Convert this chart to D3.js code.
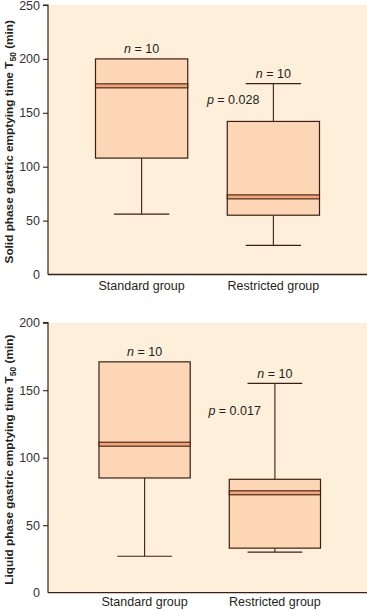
<!DOCTYPE html>
<html>
<head>
<meta charset="utf-8">
<script src="https://cdn.jsdelivr.net/npm/d3@7"></script>
<style>
  html, body { margin: 0; padding: 0; background: #ffffff; }
  svg { display: block; }
  text { font-family: "Liberation Sans", Arial, Helvetica, sans-serif; }
</style>
</head>
<body>
<svg id="chart" width="367" height="610"></svg>
<script>
// ---- data ----
const categories = ["Standard group", "Restricted group"];
const groupN = [10, 10];

const solidMin    = [56, 27];
const solidQ1     = [108, 55];
const solidMedian = [175, 72];
const solidQ3     = [200, 142];
const solidMax    = [200, 177];
const solidP      = "0.028";
const solidTicks  = [0, 50, 100, 150, 200, 250];

const liquidMin    = [27, 30];
const liquidQ1     = [85, 33];
const liquidMedian = [110, 74];
const liquidQ3     = [171, 84];
const liquidMax    = [171, 155];
const liquidP      = "0.017";
const liquidTicks  = [0, 50, 100, 150, 200];

// ---- styles ----
const BG = "#fdefda";
const BOX = "#fcd6b5";
const MED = "#f3a476";
const INK = "#3a2016";
const TXT = "#231f20";

const svg = d3.select("#chart");

const panels = [
  { title: "Solid phase gastric emptying time T", min: solidMin, q1: solidQ1, med: solidMedian, q3: solidQ3, max: solidMax,
    p: solidP, ticks: solidTicks, yMax: 250, top: 5, bottom: 274.5, xRange: [95.5, 319.5], pY: 158, xLabelY: 290 },
  { title: "Liquid phase gastric emptying time T", min: liquidMin, q1: liquidQ1, med: liquidMedian, q3: liquidQ3, max: liquidMax,
    p: liquidP, ticks: liquidTicks, yMax: 200, top: 322.7, bottom: 592.7, xRange: [99, 320.5], pY: 132, xLabelY: 606.5 }
];

const left = 48, right = 367;

panels.forEach(pn => {
  const g = svg.append("g");
  const y = d3.scaleLinear().domain([0, pn.yMax]).range([pn.bottom, pn.top]);
  const x = d3.scaleBand().domain(categories).range(pn.xRange).paddingInner(0.3).paddingOuter(0);
  const bw = x.bandwidth();

  // background
  g.append("rect").attr("x", left).attr("y", pn.top).attr("width", right - left).attr("height", pn.bottom - pn.top).attr("fill", BG);

  // y axis
  const yAxis = d3.axisLeft(y).tickValues(pn.ticks).tickSize(5).tickPadding(3).tickFormat(d3.format("d"));
  const ya = g.append("g").attr("transform", `translate(${left},0)`).call(yAxis);
  ya.select(".domain").attr("stroke", INK).attr("stroke-width", 1.2).attr("d", `M-5,${pn.top}H0V${pn.bottom}`);
  ya.selectAll(".tick line").attr("stroke", INK).attr("stroke-width", 1.1);
  ya.selectAll(".tick text").attr("fill", "#333").style("font-size", "12.5px");
  ya.selectAll(".tick").filter(d => d === 0).select("line").remove();

  // x axis
  const xAxis = d3.axisBottom(x).tickSize(0).tickPadding(0);
  const xa = g.append("g").attr("transform", `translate(0,${pn.bottom})`).call(xAxis);
  xa.select(".domain").attr("d", `M${left},0H${right}`).attr("stroke", INK).attr("stroke-width", 1.3);
  xa.selectAll(".tick text").attr("y", pn.xLabelY - pn.bottom).attr("dy", 0).attr("fill", TXT).style("font-size", "12.5px");

  const idx = d3.range(categories.length);
  const cap = bw * 0.6;

  idx.forEach(i => {
    const cx = x(categories[i]) + bw / 2;
    const bg = g.append("g");
    // whisker lines
    bg.append("line").attr("x1", cx).attr("x2", cx).attr("y1", y(pn.max[i])).attr("y2", y(pn.q3[i])).attr("stroke", INK).attr("stroke-width", 1.1);
    bg.append("line").attr("x1", cx).attr("x2", cx).attr("y1", y(pn.q1[i])).attr("y2", y(pn.min[i])).attr("stroke", INK).attr("stroke-width", 1.1);
    // caps
    if (pn.max[i] !== pn.q3[i]) {
      bg.append("line").attr("x1", cx - cap / 2).attr("x2", cx + cap / 2).attr("y1", y(pn.max[i])).attr("y2", y(pn.max[i])).attr("stroke", INK).attr("stroke-width", 1.2);
    }
    bg.append("line").attr("x1", cx - cap / 2).attr("x2", cx + cap / 2).attr("y1", y(pn.min[i])).attr("y2", y(pn.min[i])).attr("stroke", INK).attr("stroke-width", 1.2);
    // box
    bg.append("rect").attr("x", x(categories[i])).attr("y", y(pn.q3[i])).attr("width", bw).attr("height", y(pn.q1[i]) - y(pn.q3[i]))
      .attr("fill", BOX).attr("stroke", INK).attr("stroke-width", 1.2);
    // median band
    bg.append("rect").attr("x", x(categories[i])).attr("y", y(pn.med[i]) - 2).attr("width", bw).attr("height", 4)
      .attr("fill", MED).attr("stroke", INK).attr("stroke-width", 1.1);
    // n label
    const t = bg.append("text").attr("x", cx).attr("y", y(pn.max[i]) - 5.5).attr("text-anchor", "middle")
      .attr("fill", TXT).style("font-size", "12.5px");
    t.append("tspan").attr("font-style", "italic").text("n");
    t.append("tspan").text(" = " + groupN[i]);
  });

  // p value
  const pt = g.append("text").attr("x", x(categories[1]) + bw / 2 - 14).attr("y", y(pn.pY)).attr("text-anchor", "end")
    .attr("fill", TXT).style("font-size", "12.5px");
  pt.append("tspan").attr("font-style", "italic").text("p");
  pt.append("tspan").text(" = " + pn.p);

  // y axis title
  const cy = (pn.top + pn.bottom) / 2 + 2;
  const yt = g.append("text").attr("transform", `translate(12.5,${cy}) rotate(-90)`).attr("text-anchor", "middle")
    .attr("fill", TXT).style("font-size", "11.8px").style("font-weight", "bold");
  yt.append("tspan").text(pn.title);
  yt.append("tspan").attr("dy", 3).style("font-size", "8.5px").text("50");
  yt.append("tspan").attr("dy", -3).text(" (min)");
});
</script>
</body>
</html>
